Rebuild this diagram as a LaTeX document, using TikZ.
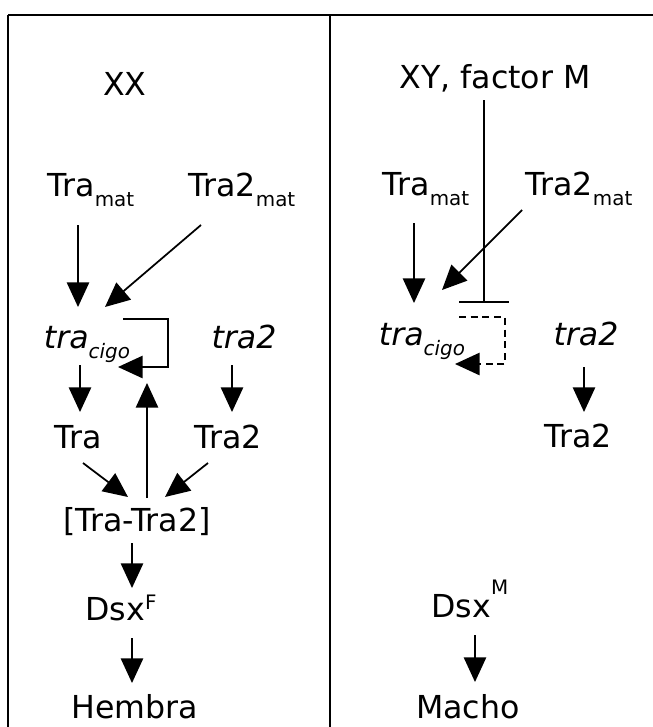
\documentclass[tikz,border=0pt]{standalone}
\usepackage{fontspec}
\setmainfont{DejaVu Sans}
\usetikzlibrary{arrows.meta}

% lowered / raised small text for the gene names
\newcommand{\subidx}[1]{\raisebox{-9pt}{\fontsize{17}{17}\selectfont #1}}
\newcommand{\supidx}[2][9pt]{\raisebox{#1}{\fontsize{17}{17}\selectfont #2}}

\begin{document}
\begin{tikzpicture}[x=0.03cm,y=-0.03cm,
		lbl/.style={anchor=base,inner sep=0pt,font=\fontsize{27}{32}\selectfont},
		arr/.style={line width=1.5pt,-{Triangle[length=21pt,width=19pt]}},
		blk/.style={line width=1.5pt,-{Bar[width=42pt,line width=1.5pt]}},
		dsh/.style={arr,dash pattern=on 6pt off 4pt},
		frame/.style={line width=1.6pt}]
			\useasboundingbox (0,0) rectangle (653,727);
			
			% the two panels
			\draw[frame] (8,15) -- (653,15);
			\draw[frame] (8,15) -- (8,727);
			\draw[frame] (330,15) -- (330,727);
			
			% XX
			\node[lbl] (xx) at (125,95) {XX};
			\node[lbl] (tramatL) at (91,196) {Tra\subidx{mat}};
			\node[lbl] (tra2matL) at (242,196) {Tra2\subidx{mat}};
			\node[lbl] (tracigoL) at (87,348) {\itshape tra\subidx{cigo}};
			\node[lbl] (tratwoL) at (244,348) {\itshape tra2};
			\node[lbl] (traL) at (78,448) {Tra};
			\node[lbl] (protwoL) at (228,448) {Tra2};
			\node[lbl] (complex) at (137,531) {[Tra-Tra2]};
			\node[lbl] (dsxF) at (121,620) {Dsx\supidx{F}};
			\node[lbl] (hembra) at (135,718) {Hembra};
			
			\draw[arr] ([shift={(-13,29)}]tramatL.base) -- ([shift={(-9,-41)}]tracigoL.base);
			\draw[arr] ([shift={(-41,29)}]tra2matL.base) -- ([shift={(18,-41)}]tracigoL.base);
			\draw[arr] ([shift={(36,-29)}]tracigoL.base) -- ++(45,0) -- ++(0,48) -- ([shift={(31,19)}]tracigoL.base);
			\draw[arr] ([shift={(-7,17)}]tracigoL.base) -- ([shift={(2,-36)}]traL.base);
			\draw[arr] ([shift={(-12,17)}]tratwoL.base) -- ([shift={(4,-36)}]protwoL.base);
			\draw[arr] ([shift={(10,-33)}]complex.base) -- ([shift={(60,35)}]tracigoL.base);
			\draw[arr] ([shift={(5,15)}]traL.base) -- ([shift={(-9,-34)}]complex.base);
			\draw[arr] ([shift={(-20,15)}]protwoL.base) -- ([shift={(28,-34)}]complex.base);
			\draw[arr] ([shift={(-5,12)}]complex.base) -- ([shift={(11,-32)}]dsxF.base);
			\draw[arr] ([shift={(11,18)}]dsxF.base) -- ([shift={(-3,-35)}]hembra.base);
			
			% XY
			\node[lbl] (xy) at (495,88) {XY, factor M};
			\node[lbl] (tramatR) at (426,195) {Tra\subidx{mat}};
			\node[lbl] (tra2matR) at (579,195) {Tra2\subidx{mat}};
			\node[lbl] (tracigoR) at (422,345) {\itshape tra\subidx{cigo}};
			\node[lbl] (tratwoR) at (586,345) {\itshape tra2};
			\node[lbl] (protwoR) at (578,447) {Tra2};
			\node[lbl] (dsxM) at (470,617) {Dsx\supidx[19pt]{M}};
			\node[lbl] (macho) at (468,718) {Macho};
			
			\draw[arr] ([shift={(-12,28)}]tramatR.base) -- ([shift={(-8,-42)}]tracigoR.base);
			\draw[arr] ([shift={(-57,15)}]tra2matR.base) -- ([shift={(20,-55)}]tracigoR.base);
			\draw[blk] ([shift={(-11,12)}]xy.base) -- ([shift={(62,-42)}]tracigoR.base);
			\draw[dsh] ([shift={(37,-28)}]tracigoR.base) -- ++(46,0) -- ++(0,47) -- ([shift={(33,19)}]tracigoR.base);
			\draw[arr] ([shift={(-2,22)}]tratwoR.base) -- ([shift={(6,-35)}]protwoR.base);
			\draw[arr] ([shift={(5,18)}]dsxM.base) -- ([shift={(7,-36)}]macho.base);
\end{tikzpicture}
\end{document}
